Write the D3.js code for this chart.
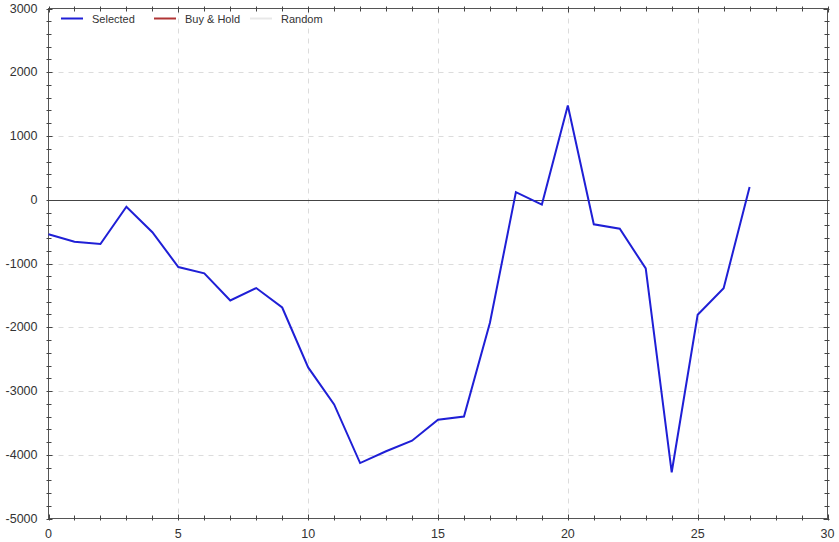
<!DOCTYPE html>
<html>
<head>
<meta charset="utf-8">
<script src="https://cdn.jsdelivr.net/npm/d3@7"></script>
<style>
  body { margin: 0; background: #fff; }
  svg { display: block; font-family: "Liberation Sans", Arial, sans-serif; }
</style>
</head>
<body>
<svg id="chart" width="839" height="542"></svg>
<script>
// equity curve values
var trades = d3.range(0, 28);
var selected = [-540, -660, -695, -110, -510, -1055, -1155, -1580, -1385, -1690,
  -2630, -3210, -4130, -3945, -3780, -3450, -3400, -1930, 120, -75,
  1478, -385, -455, -1078, -4275, -1805, -1388, 200];
var xTicks = [0, 5, 10, 15, 20, 25, 30];
var yTicks = [-5000, -4000, -3000, -2000, -1000, 0, 1000, 2000, 3000];
var legendItems = [
  { name: "Selected", color: "#1f1fd6" },
  { name: "Buy & Hold", color: "#b03535" },
  { name: "Random", color: "#e8e8e8" }
];

var svg = d3.select("#chart");
// plot box (note: "top" is taken by window.top, so use pTop etc.)
var pLeft = 48.5, pRight = 827.5, pTop = 8.5, pBottom = 518.5;

var x = d3.scaleLinear().domain([0, 30]).range([pLeft, pRight]);
var y = d3.scaleLinear().domain([-5000, 3000]).range([pBottom, pTop]);

// dashed grid
var grid = svg.append("g");
grid.selectAll("line.vx").data(xTicks.slice(1, -1)).enter().append("line")
  .attr("x1", function(d) { return Math.round(x(d)) + 0.5; })
  .attr("x2", function(d) { return Math.round(x(d)) + 0.5; })
  .attr("y1", pTop).attr("y2", pBottom)
  .attr("stroke", "#dcdcdc").attr("stroke-dasharray", "5,5");
grid.selectAll("line.hy").data(yTicks.slice(1, -1).filter(function(d) { return d !== 0; })).enter().append("line")
  .attr("y1", function(d) { return Math.round(y(d)) + 0.5; })
  .attr("y2", function(d) { return Math.round(y(d)) + 0.5; })
  .attr("x1", pLeft).attr("x2", pRight)
  .attr("stroke", "#dcdcdc").attr("stroke-dasharray", "5,5");

// zero line
svg.append("line")
  .attr("x1", pLeft).attr("x2", pRight)
  .attr("y1", Math.round(y(0)) + 0.5).attr("y2", Math.round(y(0)) + 0.5)
  .attr("stroke", "#444").attr("stroke-width", 1);

// frame
svg.append("rect")
  .attr("x", pLeft).attr("y", pTop)
  .attr("width", pRight - pLeft).attr("height", pBottom - pTop)
  .attr("fill", "none").attr("stroke", "#555").attr("stroke-width", 1);

// ticks on all four sides
var xMinor = d3.range(0, 31);
var yMinor = d3.range(-5000, 3001, 200);
var ticks = svg.append("g").attr("stroke", "#444").attr("stroke-width", 1);
function tickLen(major) { return major ? 4 : 3; }
xMinor.forEach(function(v) {
  var px = Math.round(x(v)) + 0.5, m = v % 5 === 0, l = tickLen(m);
  ticks.append("line").attr("x1", px).attr("x2", px).attr("y1", pBottom - l).attr("y2", pBottom + 2);
  ticks.append("line").attr("x1", px).attr("x2", px).attr("y1", pTop - 2).attr("y2", pTop + l);
});
yMinor.forEach(function(v) {
  var py = Math.round(y(v)) + 0.5, m = v % 1000 === 0, l = tickLen(m);
  ticks.append("line").attr("y1", py).attr("y2", py).attr("x1", pLeft - 2).attr("x2", pLeft + l);
  ticks.append("line").attr("y1", py).attr("y2", py).attr("x1", pRight - l).attr("x2", pRight + 2);
});

// tick labels
svg.append("g").selectAll("text").data(xTicks).enter().append("text")
  .attr("x", function(d) { return x(d); })
  .attr("y", pBottom + 19)
  .attr("text-anchor", "middle")
  .attr("font-size", 12.5).attr("fill", "#333")
  .text(function(d) { return d; });
svg.append("g").selectAll("text").data(yTicks).enter().append("text")
  .attr("x", pLeft - 11)
  .attr("y", function(d) { return y(d) + 4; })
  .attr("text-anchor", "end")
  .attr("font-size", 12.5).attr("fill", "#333")
  .text(function(d) { return d; });

// series line
var line = d3.line()
  .x(function(d, i) { return x(trades[i]); })
  .y(function(d) { return y(d); });
svg.append("path")
  .datum(selected)
  .attr("d", line)
  .attr("fill", "none")
  .attr("stroke", legendItems[0].color)
  .attr("stroke-width", 2)
  .attr("stroke-linejoin", "miter");

// legend
var legendX = [61, 154, 250];
var legend = svg.append("g");
legendItems.forEach(function(it, i) {
  legend.append("line")
    .attr("x1", legendX[i]).attr("x2", legendX[i] + 22)
    .attr("y1", 18.5).attr("y2", 18.5)
    .attr("stroke", it.color).attr("stroke-width", 2);
  legend.append("text")
    .attr("x", legendX[i] + 31).attr("y", 22.5)
    .attr("font-size", 11).attr("fill", "#333")
    .text(it.name);
});
</script>
</body>
</html>
